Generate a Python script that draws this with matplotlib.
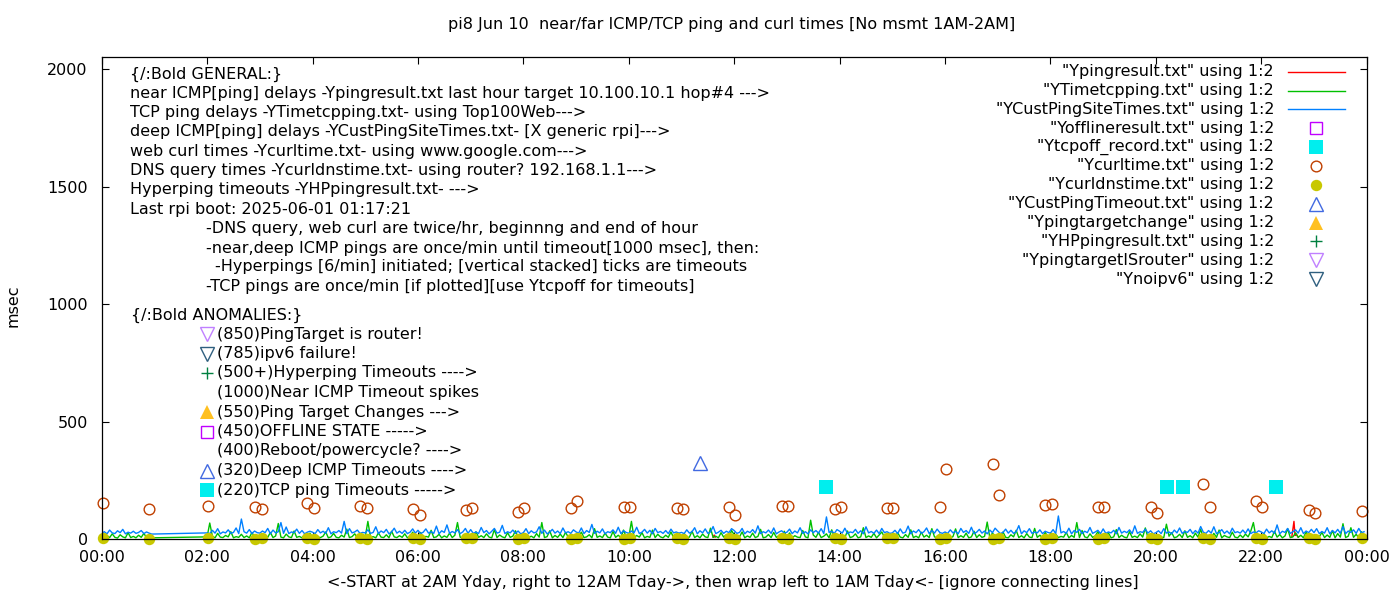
import numpy as np
import matplotlib.pyplot as plt

plt.rcParams['font.family'] = ['DejaVu Sans']
FS = 11.5

# ---- data -------------------------------------------------------------
# line series sampled every 3 minutes; no measurements 1AM-2AM
line_hours = [0] + list(range(2, 24))
PER_HOUR = 20

blue_vals = [
    24, 31, 22, 38, 26, 23, 35, 27, 41, 22, 29, 25, 33, 24, 28, 36, 23, 30, 25, 21,  # 00
    26, 23, 37, 25, 44, 22, 30, 26, 39, 24, 28, 47, 23, 85, 31, 25, 40, 23, 34, 27,  # 02
    25, 34, 27, 45, 22, 38, 26, 31, 70, 24, 51, 23, 30, 27, 42, 24, 36, 22, 29, 33,  # 03
    29, 23, 40, 26, 33, 24, 48, 22, 31, 27, 36, 25, 75, 23, 44, 26, 30, 38, 24, 28,  # 04
    26, 39, 24, 28, 52, 23, 34, 27, 41, 22, 30, 46, 25, 33, 24, 37, 23, 29, 43, 25,  # 05
    37, 23, 29, 43, 25, 31, 24, 55, 22, 35, 28, 60, 24, 32, 26, 40, 23, 30, 45, 24,  # 06
    40, 24, 30, 23, 49, 27, 36, 22, 33, 45, 25, 29, 58, 23, 31, 26, 38, 24, 34, 22,  # 07
    27, 44, 23, 35, 26, 30, 52, 24, 38, 22, 29, 41, 25, 34, 23, 47, 26, 31, 24, 39,  # 08
    30, 25, 47, 23, 36, 28, 62, 24, 33, 26, 43, 22, 31, 27, 39, 24, 50, 23, 35, 28,  # 09
    24, 34, 26, 50, 23, 29, 41, 25, 37, 22, 45, 27, 32, 24, 36, 23, 42, 26, 30, 25,  # 10
    28, 23, 39, 25, 31, 48, 22, 35, 26, 43, 24, 30, 53, 23, 29, 37, 24, 33, 27, 44,  # 11
    36, 24, 28, 45, 22, 33, 27, 40, 25, 56, 23, 31, 26, 38, 24, 47, 22, 30, 35, 25,  # 12
    29, 42, 23, 34, 26, 48, 24, 31, 22, 39, 27, 36, 25, 44, 23, 94, 28, 33, 24, 40,  # 13
    33, 25, 46, 23, 30, 27, 41, 24, 35, 22, 52, 26, 32, 24, 38, 23, 45, 27, 31, 24,  # 14
    26, 37, 23, 43, 25, 29, 55, 22, 34, 27, 40, 24, 31, 47, 23, 36, 25, 42, 28, 24,  # 15
    30, 24, 39, 26, 33, 22, 45, 28, 36, 24, 50, 23, 29, 41, 25, 34, 22, 38, 27, 46,  # 16
    34, 23, 28, 42, 25, 37, 24, 31, 57, 22, 35, 27, 44, 24, 30, 26, 39, 23, 33, 28,  # 17
    25, 40, 23, 98, 26, 32, 24, 46, 22, 36, 28, 41, 23, 33, 27, 49, 24, 30, 37, 23,  # 18
    43, 24, 30, 26, 37, 22, 49, 25, 33, 27, 39, 23, 56, 24, 31, 28, 42, 25, 35, 22,  # 19
    27, 35, 23, 44, 25, 30, 22, 38, 26, 47, 24, 32, 28, 41, 23, 36, 25, 53, 29, 24,  # 20
    36, 25, 52, 23, 29, 40, 24, 34, 22, 46, 27, 31, 25, 38, 24, 43, 23, 30, 26, 35,  # 21
    30, 23, 42, 26, 35, 24, 60, 22, 33, 28, 45, 24, 31, 39, 25, 48, 23, 34, 27, 41,  # 22
    27, 44, 23, 32, 25, 48, 22, 36, 26, 41, 24, 53, 23, 34, 28, 39, 24, 45, 26, 31,  # 23
]

green_vals = [
    8, 5, 14, 6, 22, 7, 4, 18, 9, 5, 27, 6, 11, 5, 16, 7, 24, 6, 9, 5,      # 00
    9, 68, 12, 5, 24, 8, 6, 15, 9, 31, 5, 10, 7, 20, 6, 13, 5, 28, 8, 6,    # 02
    9, 5, 17, 7, 28, 6, 13, 66, 8, 5, 21, 9, 6, 34, 7, 11, 5, 19, 8, 25,    # 03
    5, 19, 8, 6, 12, 30, 5, 9, 24, 7, 5, 16, 8, 42, 6, 10, 22, 5, 14, 7,    # 04
    9, 75, 7, 10, 5, 26, 8, 6, 18, 5, 33, 9, 6, 14, 7, 22, 5, 12, 29, 6,    # 05
    6, 28, 5, 11, 8, 37, 6, 9, 20, 5, 13, 7, 25, 6, 16, 70, 8, 5, 21, 9,    # 06
    9, 5, 31, 7, 14, 6, 22, 8, 5, 40, 6, 17, 9, 5, 27, 7, 12, 35, 6, 10,    # 07
    7, 19, 6, 12, 5, 23, 8, 70, 6, 10, 35, 5, 15, 7, 21, 6, 28, 9, 5, 14,   # 08
    5, 12, 29, 6, 9, 18, 5, 44, 7, 13, 6, 25, 8, 5, 32, 7, 16, 6, 38, 9,    # 09
    8, 75, 6, 15, 8, 27, 5, 11, 7, 38, 6, 20, 9, 5, 16, 7, 30, 6, 12, 24,   # 10
    10, 24, 5, 8, 33, 6, 14, 5, 21, 9, 6, 46, 7, 12, 5, 27, 8, 18, 6, 36,   # 11
    18, 6, 9, 30, 5, 13, 7, 25, 6, 11, 41, 5, 8, 19, 6, 28, 7, 14, 5, 33,   # 12
    7, 26, 5, 14, 8, 6, 36, 9, 5, 80, 17, 7, 28, 6, 12, 22, 5, 39, 8, 11,   # 13
    5, 15, 7, 34, 6, 10, 22, 5, 9, 48, 6, 13, 7, 24, 5, 17, 30, 8, 6, 19,   # 14
    11, 6, 27, 8, 5, 19, 7, 39, 6, 12, 5, 29, 8, 16, 6, 44, 9, 5, 21, 7,    # 15
    8, 21, 5, 10, 43, 6, 14, 7, 25, 5, 9, 33, 6, 18, 7, 11, 72, 5, 26, 8,   # 16
    6, 12, 30, 7, 5, 18, 9, 37, 6, 14, 5, 23, 8, 6, 45, 7, 16, 5, 28, 10,   # 17
    9, 5, 20, 6, 11, 8, 28, 5, 15, 7, 70, 6, 36, 9, 5, 22, 7, 13, 31, 6,    # 18
    13, 7, 26, 5, 9, 40, 6, 16, 8, 5, 31, 7, 12, 6, 22, 8, 47, 5, 18, 9,    # 19
    5, 18, 8, 6, 63, 12, 27, 5, 9, 20, 6, 35, 7, 14, 5, 25, 8, 41, 6, 11,   # 20
    10, 6, 24, 7, 38, 5, 15, 9, 6, 29, 8, 5, 17, 6, 21, 9, 33, 70, 7, 14,   # 21
    7, 22, 5, 11, 6, 33, 8, 19, 5, 13, 44, 6, 9, 26, 7, 16, 5, 30, 8, 12,   # 22
    5, 14, 9, 28, 6, 17, 7, 36, 5, 23, 8, 65, 6, 12, 48, 7, 20, 5, 31, 9,   # 23
]

# near ICMP (only a few blips visible)
red_t = [11.60, 11.62, 11.64, None, 22.58, 22.62, 22.64, 22.66, 22.70]
red_v = [8, 17, 8, None, 10, 75, 15, 22, 8]

# curl / dns query times (twice per hour)
curl_t = [0.025, 0.897, 2.017, 2.908, 3.041, 3.895, 4.028, 4.900, 5.033,
          5.906, 6.039, 6.911, 7.025, 7.898, 8.012, 8.904, 9.018, 9.910,
          10.023, 10.915, 11.029, 11.902, 12.016, 12.908, 13.022, 13.913,
          14.027, 14.900, 15.014, 15.906, 16.020, 16.912, 17.026, 17.899,
          18.031, 18.904, 19.018, 19.910, 20.024, 20.896, 21.029, 21.902,
          22.016, 22.907, 23.021, 23.910]
curl_v = [152, 126, 140, 135, 126, 154, 131, 140, 131,
          126, 102, 123, 131, 116, 131, 131, 162, 135,
          135, 131, 126, 135, 102, 140, 140, 126,
          135, 131, 131, 135, 297, 318, 186, 143,
          148, 135, 135, 135, 109, 233, 135, 162,
          135, 122, 109, 119]
dns_v = [3, 2, 3, 2, 4, 3, 2, 3, 2,
         3, 2, 4, 3, 2, 3, 2, 3, 2,
         3, 4, 2, 3, 2, 3, 2, 3,
         2, 3, 4, 2, 3, 2, 3, 2,
         3, 2, 4, 3, 2, 3, 2, 3,
         2, 3, 2, 3]

tcpoff_t = [13.74, 20.21, 20.51, 22.28]
tcpoff_v = [220, 220, 220, 220]

custto_t = [11.35]
custto_v = [325]

xtick_hours = [0, 2, 4, 6, 8, 10, 12, 14, 16, 18, 20, 22, 24]
xtick_labels = ['00:00', '02:00', '04:00', '06:00', '08:00', '10:00', '12:00',
                '14:00', '16:00', '18:00', '20:00', '22:00', '00:00']
yticks = [0, 500, 1000, 1500, 2000]

# ---- styles -----------------------------------------------------------
C_RED = '#ff0000'
C_GREEN = '#00c000'
C_BLUE = '#0080ff'
C_PURPLE = '#c000ff'
C_CYAN = '#00eeee'
C_ORANGE = '#c04000'
C_YELLOW = '#c8c800'
C_ROYAL = '#4169e1'
C_GOLD = '#ffc020'
C_DKGREEN = '#008040'
C_LAVENDER = '#c080ff'
C_SLATE = '#2f5f7f'
LW = 1.0

st_offline = dict(marker='s', ms=8.5, mfc='none', mec=C_PURPLE, mew=1.0)
st_tcpoff = dict(marker='s', ms=9.4, mfc=C_CYAN, mec=C_CYAN, mew=0)
st_curl = dict(marker='o', ms=7.7, mfc='none', mec=C_ORANGE, mew=1.0)
st_dns = dict(marker='o', ms=8.2, mfc=C_YELLOW, mec=C_YELLOW, mew=0)
st_custto = dict(marker='^', ms=10, mfc='none', mec=C_ROYAL, mew=1.0)
st_tchange = dict(marker='^', ms=10, mfc=C_GOLD, mec=C_GOLD, mew=0)
st_hp = dict(marker='+', ms=9, mec=C_DKGREEN, mew=1.0)
st_router = dict(marker='v', ms=10, mfc='none', mec=C_LAVENDER, mew=1.0)
st_ipv6 = dict(marker='v', ms=10, mfc='none', mec=C_SLATE, mew=1.0)

# ---- figure -----------------------------------------------------------
W, H = 1400, 600
fig = plt.figure(figsize=(14, 6), dpi=100)
x0, x1, y0, y1 = 101.7, 1366.7, 57.3, 539.0
ax = fig.add_axes([x0 / W, 1 - y1 / H, (x1 - x0) / W, (y1 - y0) / H])

t_line = np.concatenate([h + np.arange(PER_HOUR) / PER_HOUR for h in line_hours])
red_t_arr = np.array([np.nan if v is None else v for v in red_t])
red_v_arr = np.array([np.nan if v is None else v for v in red_v])

ax.plot(red_t_arr, red_v_arr, color=C_RED, lw=LW)
ax.plot(t_line, green_vals, color=C_GREEN, lw=LW)
ax.plot(t_line, blue_vals, color=C_BLUE, lw=LW)
ax.plot(tcpoff_t, tcpoff_v, ls='none', clip_on=False, **st_tcpoff)
ax.plot(curl_t, curl_v, ls='none', clip_on=False, **st_curl)
ax.plot(curl_t, dns_v, ls='none', clip_on=False, **st_dns)
ax.plot(custto_t, custto_v, ls='none', clip_on=False, **st_custto)

ax.set_xlim(0, 24)
ax.set_ylim(0, 2050)
ax.set_xticks(xtick_hours)
ax.set_xticklabels(xtick_labels)
ax.set_yticks(yticks)
ax.tick_params(axis='both', direction='in', top=True, right=True,
               length=5, width=0.8, labelsize=FS)
ax.tick_params(axis='x', pad=8)
ax.tick_params(axis='y', pad=10)
for sp in ax.spines.values():
    sp.set_linewidth(0.9)

fig.text(732 / W, 1 - 25 / H,
         'pi8 Jun 10  near/far ICMP/TCP ping and curl times [No msmt 1AM-2AM]',
         ha='center', va='center', fontsize=FS)
fig.text(733 / W, 1 - 583 / H,
         '<-START at 2AM Yday, right to 12AM Tday->, then wrap left to 1AM Tday<- [ignore connecting lines]',
         ha='center', va='center', fontsize=FS)
fig.text(13 / W, 1 - 306 / H, 'msec', rotation=90, ha='center', va='center', fontsize=FS)

# overlay in pixel coordinates for the key and the notes
ov = fig.add_axes([0, 0, 1, 1], zorder=5)
ov.set_xlim(0, W)
ov.set_ylim(H, 0)
ov.axis('off')
ov.patch.set_alpha(0)

key = [
    ('"Ypingresult.txt" using 1:2', 'line', C_RED),
    ('"YTimetcpping.txt" using 1:2', 'line', C_GREEN),
    ('"YCustPingSiteTimes.txt" using 1:2', 'line', C_BLUE),
    ('"Yofflineresult.txt" using 1:2', 'pt', st_offline),
    ('"Ytcpoff_record.txt" using 1:2', 'pt', st_tcpoff),
    ('"Ycurltime.txt" using 1:2', 'pt', st_curl),
    ('"Ycurldnstime.txt" using 1:2', 'pt', st_dns),
    ('"YCustPingTimeout.txt" using 1:2', 'pt', st_custto),
    ('"Ypingtargetchange" using 1:2', 'pt', st_tchange),
    ('"YHPpingresult.txt" using 1:2', 'pt', st_hp),
    ('"YpingtargetISrouter" using 1:2', 'pt', st_router),
    ('"Ynoipv6" using 1:2', 'pt', st_ipv6),
]
for i, (lab, kind, sty) in enumerate(key):
    yy = 71.7 + i * 18.85
    ov.text(1274, yy, lab, ha='right', va='center', fontsize=FS)
    if kind == 'line':
        ov.plot([1288, 1345], [yy, yy], color=sty, lw=LW)
    else:
        ov.plot([1316], [yy], ls='none', **sty)

general = [
    '{/:Bold GENERAL:}',
    'near ICMP[ping] delays -Ypingresult.txt last hour target 10.100.10.1 hop#4 --->',
    'TCP ping delays -YTimetcpping.txt- using Top100Web--->',
    'deep ICMP[ping] delays -YCustPingSiteTimes.txt- [X generic rpi]--->',
    'web curl times -Ycurltime.txt- using www.google.com--->',
    'DNS query times -Ycurldnstime.txt- using router? 192.168.1.1--->',
    'Hyperping timeouts -YHPpingresult.txt- --->',
    'Last rpi boot: 2025-06-01 01:17:21',
]
for i, s in enumerate(general):
    ov.text(130, 74 + i * 19.3, s, ha='left', va='center', fontsize=FS)

notes = [
    ('-DNS query, web curl are twice/hr, beginnng and end of hour', 206, 229),
    ('-near,deep ICMP pings are once/min until timeout[1000 msec], then:', 206, 248),
    ('-Hyperpings [6/min] initiated; [vertical stacked] ticks are timeouts', 215, 267),
    ('-TCP pings are once/min [if plotted][use Ytcpoff for timeouts]', 206, 286),
]
for s, xx, yy in notes:
    ov.text(xx, yy, s, ha='left', va='center', fontsize=FS)

ov.text(131, 315, '{/:Bold ANOMALIES:}', ha='left', va='center', fontsize=FS)
anomalies = [
    ('(850)PingTarget is router!', st_router),
    ('(785)ipv6 failure!', st_ipv6),
    ('(500+)Hyperping Timeouts ---->', st_hp),
    ('(1000)Near ICMP Timeout spikes', None),
    ('(550)Ping Target Changes --->', st_tchange),
    ('(450)OFFLINE STATE ----->', st_offline),
    ('(400)Reboot/powercycle? ---->', None),
    ('(320)Deep ICMP Timeouts ---->', st_custto),
    ('(220)TCP ping Timeouts ----->', st_tcpoff),
]
for i, (s, sty) in enumerate(anomalies):
    yy = 334 + i * 19.5
    ov.text(217, yy, s, ha='left', va='center', fontsize=FS)
    if sty is not None:
        ov.plot([207], [yy], ls='none', **sty)

fig.savefig('out.png', dpi=100)
